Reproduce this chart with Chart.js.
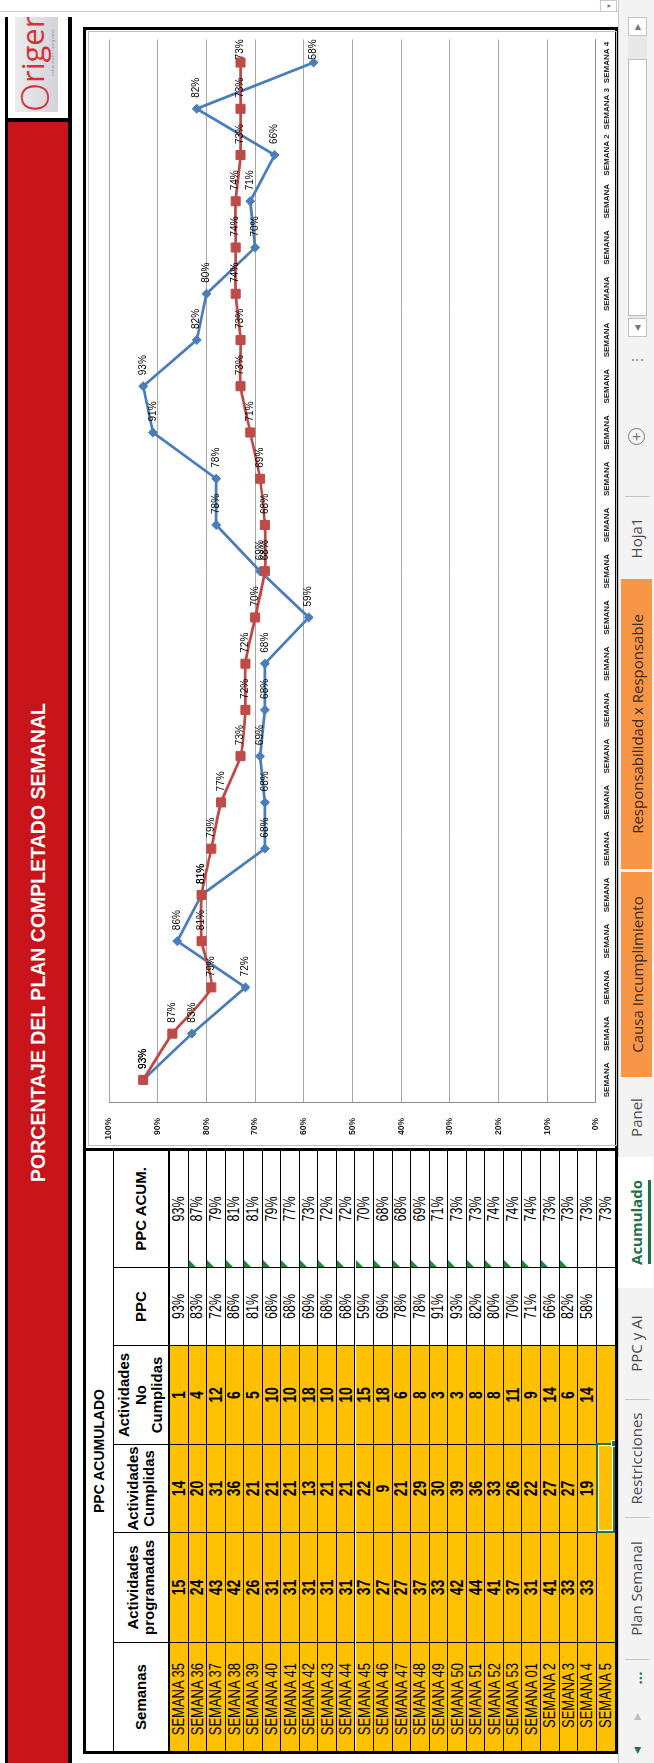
<!DOCTYPE html>
<html lang="es">
<head>
<meta charset="utf-8">
<title>PPC Acumulado</title>
<script src="https://cdn.jsdelivr.net/npm/chart.js@4.4.1/dist/chart.umd.min.js"></script>
<style>
  html, body { margin: 0; padding: 0; width: 654px; height: 1763px; overflow: hidden; background: #fff; }
  /* la hoja se dibuja apaisada y se gira */
  #hoja {
    position: absolute; left: 0; top: 0; width: 1763px; height: 654px;
    transform-origin: 0 0; transform: translateY(1763px) rotate(-90deg);
    font-family: "Liberation Sans", Arial, sans-serif; background: #fff; overflow: hidden;
  }
  .abs { position: absolute; box-sizing: border-box; }
  .celda { position: absolute; box-sizing: border-box; border-right: 1px solid #000; border-bottom: 1px solid #000;
           display: flex; align-items: center; justify-content: center; overflow: hidden; white-space: nowrap; }
  .cab { background: #fff; font-weight: bold; font-size: 15px; line-height: 16.5px; text-align: center; white-space: normal; color: #000; }
  .amarillo { background: #ffc000; }
  .blanco { background: #fff; }
  .t { display: inline-block; transform: scaleY(1.25); }
  .sem { justify-content: flex-end; padding-right: 20px; font-size: 13px; }
  .num { font-weight: bold; font-size: 14px; }
  .pct { font-size: 12.5px; }
  .marca { position: absolute; left: 0; top: 0; width: 0; height: 0; border-top: 7px solid #1a8a3a; border-right: 7px solid transparent; }
  .pest { position: absolute; top: 0; height: 34px; display: flex; align-items: center; justify-content: center;
          font-family: "Open Sans", "Noto Sans", sans-serif; font-size: 15px; color: #4a4a4a; white-space: nowrap; }
  .sep { position: absolute; top: 6px; width: 1px; height: 25px; background: #c4c4c4; }
  .naranja { background: #f79646; color: #3a2a20; top: 2px; height: 31px; }
</style>
</head>
<body>
<div id="hoja">
  <!-- franja del título -->
  <div class="abs" style="left:0;top:5px;width:1746px;height:3px;background:#000"></div>
  <div class="abs" style="left:0;top:68px;width:1746px;height:4px;background:#000"></div>
  <div class="abs" style="left:0;top:8px;width:1641px;height:60px;background:#c9141b;color:#fff;font-weight:bold;font-size:19.5px;display:flex;align-items:center;justify-content:center">PORCENTAJE DEL PLAN COMPLETADO SEMANAL</div>
  <div class="abs" style="left:1641px;top:8px;width:4px;height:60px;background:#000"></div>
  <div class="abs" style="left:1645px;top:8px;width:101px;height:60px;background:#fff;overflow:hidden">
    <div class="abs" style="left:6px;top:7px;width:95px;height:43px;background:linear-gradient(180deg,#ececef,#d3d3d8);overflow:hidden;color:#d8303a;white-space:nowrap">
      <span class="abs" style="left:0;top:-2px;font-family:'Open Sans',sans-serif;font-weight:300;font-size:38px;line-height:42px">O</span>
      <span class="abs" style="left:29px;top:0;font-family:'Open Sans',sans-serif;font-size:31px;line-height:34px">rigen</span>
      <span class="abs" style="left:36px;top:35px;font-size:4px;color:#8a8a8a;letter-spacing:0.5px">soluciones integrales</span>
    </div>
  </div>

  <!-- tabla -->
  <div id="tabla"></div>

  <!-- gráfico -->
  <div class="abs" style="left:612px;top:83px;width:1124px;height:535px;border:3px solid #000"></div>
  <div class="abs" style="left:617px;top:88px;width:1115px;height:529px;border:1px solid #bfbfbf"></div>
  <canvas id="grafico" width="1113" height="527" style="position:absolute;left:618px;top:89px;width:1113px;height:527px"></canvas>

  <!-- barra de desplazamiento vertical -->
  <div class="abs" style="left:1751px;top:0;width:12px;height:618px;border-left:1px solid #d0d0d0;background:#fff"></div>
  <div class="abs" style="left:1751px;top:600px;width:12px;height:17px;border:1px solid #c8c8c8;font-size:6px;color:#777;display:flex;align-items:center;justify-content:center">▼</div>

  <!-- pestañas -->
  <div id="pestanas" class="abs" style="left:0;top:618px;width:1763px;height:36px;background:#f3f3f3;border-top:1px solid #c8c8c8">
    <div class="pest" style="left:6px;width:14px;color:#217346;font-size:9px">◀</div>
    <div class="pest" style="left:40px;width:14px;color:#bdbdbd;font-size:9px">▶</div>
    <div class="pest" style="left:76px;width:18px;color:#217346;font-weight:bold">...</div>
    <div class="sep" style="left:103px"></div>
    <div class="pest" style="left:104px;width:141px">Plan Semanal</div>
    <div class="sep" style="left:245px"></div>
    <div class="pest" style="left:246px;width:117px">Restricciones</div>
    <div class="sep" style="left:363px"></div>
    <div class="pest" style="left:364px;width:111px">PPC y AI</div>
    <div class="pest" style="left:475px;top:-1px;height:35px;width:131px;background:#fff;color:#217346;font-weight:bold">Acumulado</div>
    <div class="abs" style="left:499px;top:29px;width:84px;height:3px;background:#217346"></div>
    <div class="pest" style="left:606px;width:79px">Panel</div>
    <div class="pest naranja" style="left:686px;width:205px">Causa Incumplimiento</div>
    <div class="pest naranja" style="left:894px;width:290px">Responsabilidad x Responsable</div>
    <div class="pest" style="left:1186px;width:78px">Hoja1</div>
    <div class="sep" style="left:1266px"></div>
    <div class="abs" style="left:1318px;top:9px;width:17px;height:17px;border:1.5px solid #7a7a7a;border-radius:50%;color:#7a7a7a;font-size:15px;line-height:13px;text-align:center">+</div>
    <div class="pest" style="left:1396px;width:14px;color:#8a8a8a;font-size:14px">⋮</div>
    <div class="abs" style="left:1426px;top:9px;width:320px;height:19px;background:#e8e8e8"></div>
    <div class="abs" style="left:1426px;top:9px;width:19px;height:19px;border:1px solid #c4c4c4;background:#fff;font-size:8px;color:#777;display:flex;align-items:center;justify-content:center">◀</div>
    <div class="abs" style="left:1447px;top:9px;width:257px;height:19px;border:1px solid #bdbdbd;background:#fff"></div>
    <div class="abs" style="left:1727px;top:9px;width:19px;height:19px;border:1px solid #c4c4c4;background:#fff;font-size:8px;color:#777;display:flex;align-items:center;justify-content:center">▶</div>
  </div>
</div>

<script>
// datos de la hoja Acumulado
const semanas = ['SEMANA 35', 'SEMANA 36', 'SEMANA 37', 'SEMANA 38', 'SEMANA 39', 'SEMANA 40', 'SEMANA 41',
  'SEMANA 42', 'SEMANA 43', 'SEMANA 44', 'SEMANA 45', 'SEMANA 46', 'SEMANA 47', 'SEMANA 48', 'SEMANA 49',
  'SEMANA 50', 'SEMANA 51', 'SEMANA 52', 'SEMANA 53', 'SEMANA 01', 'SEMANA 2', 'SEMANA 3', 'SEMANA 4', 'SEMANA 5'];
const programadas = [15, 24, 43, 42, 26, 31, 31, 31, 31, 31, 37, 27, 27, 37, 33, 42, 44, 41, 37, 31, 41, 33, 33];
const cumplidas = [14, 20, 31, 36, 21, 21, 21, 13, 21, 21, 22, 9, 21, 29, 30, 39, 36, 33, 26, 22, 27, 27, 19];
const noCumplidas = [1, 4, 12, 6, 5, 10, 10, 18, 10, 10, 15, 18, 6, 8, 3, 3, 8, 8, 11, 9, 14, 6, 14];
const ppc = [93, 83, 72, 86, 81, 68, 68, 69, 68, 68, 59, 69, 78, 78, 91, 93, 82, 80, 70, 71, 66, 82, 58];
const ppcAcum = [93, 87, 79, 81, 81, 79, 77, 73, 72, 72, 70, 68, 68, 69, 71, 73, 73, 74, 74, 74, 73, 73, 73, 73];

// ---- tabla ----
const colX = [12, 121, 231, 319, 418, 496, 612];
const filaY0 = 170, altoFila = 18.55;
const tabla = document.getElementById('tabla');

function celda(x0, x1, y0, y1, clases, html, extra) {
  const d = document.createElement('div');
  d.className = 'celda ' + clases;
  d.style.left = x0 + 'px';
  d.style.top = y0 + 'px';
  d.style.width = (x1 - x0) + 'px';
  d.style.height = (y1 - y0) + 'px';
  if (extra) Object.assign(d.style, extra);
  d.innerHTML = html;
  tabla.appendChild(d);
  return d;
}

celda(colX[0], colX[6], 86, 114, 'cab', 'PPC ACUMULADO', { fontSize: '14px', borderRight: 'none' });
const cabeceras = ['Semanas', 'Actividades<br>programadas', 'Actividades<br>Cumplidas',
  'Actividades<br>No<br>Cumplidas', 'PPC', 'PPC ACUM.'];
cabeceras.forEach((c, i) => {
  celda(colX[i], colX[i + 1], 114, filaY0, 'cab', c,
    { borderBottom: '2px solid #000', borderRight: i === 5 ? 'none' : '1px solid #000' });
});

semanas.forEach((s, i) => {
  const y0 = filaY0 + i * altoFila, y1 = y0 + altoFila;
  const valores = [
    s,
    programadas[i] ?? '',
    cumplidas[i] ?? '',
    noCumplidas[i] ?? '',
    ppc[i] !== undefined ? ppc[i] + '%' : '',
    ppcAcum[i] !== undefined ? ppcAcum[i] + '%' : ''
  ];
  const clases = ['sem amarillo', 'num amarillo', 'num amarillo', 'num amarillo', 'pct blanco', 'pct blanco'];
  valores.forEach((v, c) => {
    const extra = {};
    if (c === 5) extra.borderRight = 'none';
    if (i === semanas.length - 1) extra.borderBottom = 'none';
    const d = celda(colX[c], colX[c + 1], y0, y1, clases[c], v === '' ? '' : '<span class="t">' + v + '</span>', extra);
    if (c === 5 && i > 0 && i < 22) {
      const m = document.createElement('div');
      m.className = 'marca';
      d.appendChild(m);
    }
  });
});

// celda activa
const ySel = filaY0 + (semanas.length - 1) * altoFila;
const sel = document.createElement('div');
sel.className = 'abs';
Object.assign(sel.style, { left: (colX[2] - 1) + 'px', top: (ySel - 1) + 'px', width: (colX[3] - colX[2] + 2) + 'px',
  height: (altoFila + 1) + 'px', border: '2px solid #217346', boxShadow: 'inset 0 0 0 1px #fff' });
tabla.appendChild(sel);
const asa = document.createElement('div');
asa.className = 'abs';
Object.assign(asa.style, { left: (colX[3] - 3) + 'px', top: (ySel + altoFila - 4) + 'px', width: '7px', height: '7px',
  background: '#217346', border: '1px solid #fff' });
tabla.appendChild(asa);

// marco exterior
const marco = document.createElement('div');
marco.className = 'abs';
Object.assign(marco.style, { left: '9px', top: '83px', width: '606px',
  height: (filaY0 + semanas.length * altoFila + 3 - 83) + 'px', border: '3px solid #000' });
tabla.appendChild(marco);

// ---- gráfico ----
const n = ppc.length;
// Excel parte en dos líneas las etiquetas que no caben
const etiquetasX = semanas.slice(0, n).map(s => {
  const [p, num] = s.split(' ');
  return num.length > 1 ? [p, num] : s;
});

const fuente = '"Liberation Sans", Arial, sans-serif';
const azul = '#4a7ebb';
const rojo = '#be4b48';

const etiquetasDatos = {
  id: 'etiquetasDatos',
  afterDatasetsDraw(chart) {
    const ctx = chart.ctx;
    const derecha = chart.chartArea.right;
    ctx.save();
    ctx.font = '10px ' + fuente;
    ctx.fillStyle = '#000';
    ctx.textBaseline = 'middle';
    ctx.textAlign = 'left';
    chart.data.datasets.forEach((ds, i) => {
      chart.getDatasetMeta(i).data.forEach((pt, j) => {
        const txt = ds.data[j] + '%';
        const w = ctx.measureText(txt).width;
        let x = pt.x + 11;
        if (x + w > derecha) x = derecha - w;
        ctx.fillText(txt, x, pt.y);
      });
    });
    ctx.restore();
  }
};

new Chart(document.getElementById('grafico'), {
  type: 'line',
  data: {
    labels: etiquetasX,
    datasets: [
      {
        label: 'PPC',
        data: ppc,
        borderColor: azul,
        backgroundColor: azul,
        borderWidth: 2.75,
        pointStyle: 'rectRot',
        pointRadius: 4.5,
        pointBorderWidth: 1,
        tension: 0,
        order: 2
      },
      {
        label: 'PPC ACUM.',
        data: ppcAcum.slice(0, n),
        borderColor: rojo,
        backgroundColor: rojo,
        borderWidth: 2.75,
        pointStyle: 'rect',
        pointRadius: 6.4,
        pointBorderWidth: 1,
        tension: 0.2,
        order: 1
      }
    ]
  },
  options: {
    responsive: false,
    animation: false,
    events: [],
    layout: { padding: { top: 14, right: 5, left: 0, bottom: 0 } },
    plugins: { legend: { display: false }, tooltip: { enabled: false } },
    scales: {
      x: {
        offset: true,
        grid: { display: false, drawTicks: false },
        border: { color: '#8c8c8c' },
        ticks: {
          autoSkip: false, maxRotation: 0, minRotation: 0, padding: 6,
          color: '#262626', font: { family: fuente, size: 8, weight: 'bold' }
        },
        afterFit(s) { s.height = 17; }
      },
      y: {
        min: 0,
        max: 100,
        grid: { color: '#a6a6a6', drawTicks: false },
        border: { color: '#8c8c8c' },
        ticks: {
          stepSize: 10, padding: 15, callback: v => v + '%',
          color: '#1a1a1a', font: { family: fuente, size: 8.5, weight: 'bold' }
        },
        afterFit(s) { s.width = 42; }
      }
    }
  },
  plugins: [etiquetasDatos]
});
</script>
</body>
</html>
